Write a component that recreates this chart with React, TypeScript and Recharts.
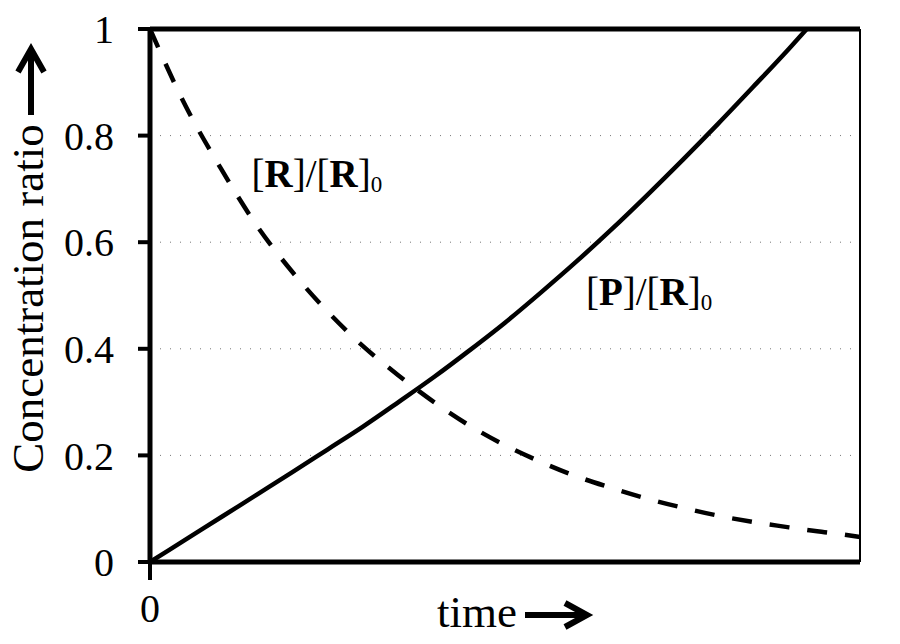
import { LineChart, Line, XAxis, YAxis, CartesianGrid, ReferenceLine, ReferenceDot, Label } from 'recharts';

const TIME = [0, 0.5, 1, 1.5, 2, 2.5, 3, 3.5, 4, 4.5, 5, 5.5, 6, 6.5, 7, 7.5, 8, 8.5, 9, 9.25, 9.5, 10];
const RATIO_R = [1.0, 0.856, 0.738, 0.632, 0.545, 0.47, 0.405, 0.35, 0.3, 0.256, 0.219, 0.188, 0.161, 0.139, 0.119, 0.102, 0.087, 0.075, 0.065, 0.06, 0.056, 0.047];
const RATIO_P = [0, 0.042, 0.084, 0.126, 0.168, 0.211, 0.254, 0.3, 0.347, 0.397, 0.449, 0.505, 0.563, 0.624, 0.688, 0.754, 0.822, 0.892, 0.963, 1.0, null, null];
const Y_TICKS = [0, 0.2, 0.4, 0.6, 0.8, 1];
const X_TICKS = [0];

const data = TIME.map((t, i) => ({ t, r: RATIO_R[i], p: RATIO_P[i] }));

const FONT = '"Liberation Serif", "Times New Roman", serif';

// curve label: [X]/[R]0 with bold letters and a subscript zero
function curveLabel(letter: string) {
    return (props: any) => {
        const { x, y } = props.viewBox;
        return (
            <text x={x} y={y} fontFamily={FONT} fontSize={39} fill="#000">
                <tspan>[</tspan>
                <tspan fontWeight="bold">{letter}</tspan>
                <tspan>]/[</tspan>
                <tspan fontWeight="bold">R</tspan>
                <tspan>]</tspan>
                <tspan fontSize={23} dy={5}>0</tspan>
            </text>
        );
    };
}

function YTitle(props: any) {
    const { x, y, height } = props.viewBox;
    const cx = x + 43;
    const cy = y + height / 2 + 3;
    const ax = x + 31;
    return (
        <g>
            <text
                x={cx}
                y={cy}
                transform={`rotate(-90 ${cx} ${cy})`}
                textAnchor="middle"
                fontFamily={FONT}
                fontSize={45}
                fill="#000"
            >
                Concentration ratio
            </text>
            <line x1={ax} y1={y + 86} x2={ax} y2={y + 24} stroke="#000" strokeWidth={6} />
            <path d={`M ${ax - 13} ${y + 43} L ${ax} ${y + 20} L ${ax + 13} ${y + 43}`} fill="none" stroke="#000" strokeWidth={6} />
        </g>
    );
}

function XTitle(props: any) {
    const { x, y } = props.viewBox;
    const tx = x + 287;
    const by = y + 65;
    const ay = y + 53;
    return (
        <g>
            <text x={tx} y={by} fontFamily={FONT} fontSize={45} fill="#000">
                time
            </text>
            <line x1={tx + 88} y1={ay} x2={tx + 146} y2={ay} stroke="#000" strokeWidth={6} />
            <path d={`M ${tx + 128} ${ay - 12} L ${tx + 150} ${ay} L ${tx + 128} ${ay + 12}`} fill="none" stroke="#000" strokeWidth={6} />
        </g>
    );
}

export default function App() {
    return (
        <div style={{ position: 'absolute', left: 0, top: 0, width: 900, height: 644, background: '#fff' }}>
            <LineChart width={900} height={644} data={data} margin={{ top: 29, right: 40, bottom: 32, left: 0 }}>
                <CartesianGrid vertical={false} stroke="#777" strokeDasharray="1 9" />
                <XAxis
                    dataKey="t"
                    type="number"
                    domain={[0, 10]}
                    ticks={X_TICKS}
                    height={50}
                    tickSize={18}
                    tickMargin={14}
                    axisLine={{ stroke: '#000', strokeWidth: 5 }}
                    tickLine={{ stroke: '#000', strokeWidth: 4 }}
                    tick={{ fill: '#000', fontSize: 40, fontFamily: FONT }}
                >
                    <Label content={<XTitle />} />
                </XAxis>
                <YAxis
                    type="number"
                    domain={[0, 1]}
                    ticks={Y_TICKS}
                    allowDataOverflow
                    width={150}
                    tickSize={12}
                    tickMargin={24}
                    axisLine={{ stroke: '#000', strokeWidth: 5 }}
                    tickLine={{ stroke: '#000', strokeWidth: 4 }}
                    tick={{ fill: '#000', fontSize: 40, fontFamily: FONT }}
                >
                    <Label content={<YTitle />} />
                </YAxis>
                <ReferenceLine y={1} stroke="#000" strokeWidth={5} />
                <ReferenceLine x={10} stroke="#000" strokeWidth={2} />
                <Line
                    type="monotone"
                    dataKey="r"
                    stroke="#000"
                    strokeWidth={4.5}
                    strokeDasharray="20 18"
                    dot={false}
                    isAnimationActive={false}
                />
                <Line
                    type="monotone"
                    dataKey="p"
                    stroke="#000"
                    strokeWidth={4.5}
                    dot={false}
                    isAnimationActive={false}
                />
                <ReferenceDot x={1.43} y={0.704} r={0} fill="none" stroke="none" label={curveLabel('R')} />
                <ReferenceDot x={6.14} y={0.482} r={0} fill="none" stroke="none" label={curveLabel('P')} />
            </LineChart>
        </div>
    );
}
